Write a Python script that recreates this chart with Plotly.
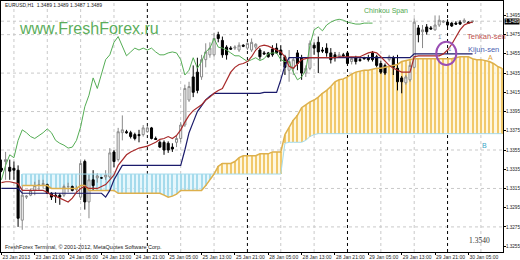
import plotly.graph_objects as go

# ---------------- data : EURUSD H1, bar 0 = 23 Jan 2013 13:00 ----------------
opens = [1.3336, 1.3343, 1.3337, 1.3336, 1.3334, 1.3282, 1.3306, 1.3308, 1.3313, 1.3319,
         1.3319, 1.3319, 1.3310, 1.3308, 1.3308, 1.3308, 1.3317, 1.3317, 1.3314, 1.3306,
         1.3343, 1.3301, 1.3324, 1.3326, 1.3326, 1.3327, 1.3327, 1.3353, 1.3345, 1.3373,
         1.3374, 1.3373, 1.3371, 1.3371, 1.3371, 1.3374, 1.3378, 1.3367, 1.3363, 1.3363,
         1.3362, 1.3358, 1.3363, 1.3367, 1.3381, 1.3407, 1.3431, 1.3436, 1.3431, 1.3449,
         1.3454, 1.3454, 1.3475, 1.3469, 1.3462, 1.3461, 1.3461, 1.3459, 1.3464, 1.3461,
         1.3459, 1.3462, 1.3459, 1.3456, 1.3456, 1.3460, 1.3461, 1.3459, 1.3452, 1.3438,
         1.3440, 1.3456, 1.3451, 1.3435, 1.3440, 1.3464, 1.3467, 1.3459, 1.3461, 1.3456,
         1.3454, 1.3452, 1.3454, 1.3456, 1.3447, 1.3451, 1.3449, 1.3451, 1.3451, 1.3456,
         1.3452, 1.3445, 1.3443, 1.3449, 1.3451, 1.3440, 1.3430, 1.3425, 1.3428, 1.3441,
         1.3482, 1.3478, 1.3483, 1.3482, 1.3480, 1.3485, 1.3488, 1.3488, 1.3487, 1.3487,
         1.3488, 1.3488, 1.3488, 1.3489]
highs = [1.3345, 1.3353, 1.3345, 1.3343, 1.3339, 1.3318, 1.3308, 1.3315, 1.3322, 1.3324,
         1.3324, 1.3320, 1.3311, 1.3311, 1.3310, 1.3319, 1.3321, 1.3318, 1.3318, 1.3344,
         1.3345, 1.3329, 1.3334, 1.3331, 1.3327, 1.3334, 1.3357, 1.3355, 1.3378, 1.3391,
         1.3376, 1.3375, 1.3373, 1.3376, 1.3381, 1.3380, 1.3379, 1.3369, 1.3365, 1.3365,
         1.3364, 1.3362, 1.3370, 1.3384, 1.3423, 1.3426, 1.3443, 1.3451, 1.3454, 1.3466,
         1.3467, 1.3477, 1.3478, 1.3473, 1.3464, 1.3463, 1.3464, 1.3467, 1.3465, 1.3467,
         1.3471, 1.3466, 1.3461, 1.3458, 1.3457, 1.3464, 1.3466, 1.3464, 1.3454, 1.3459,
         1.3451, 1.3459, 1.3454, 1.3443, 1.3469, 1.3467, 1.3473, 1.3462, 1.3466, 1.3461,
         1.3457, 1.3457, 1.3456, 1.3458, 1.3452, 1.3453, 1.3451, 1.3452, 1.3454, 1.3458,
         1.3454, 1.3448, 1.3445, 1.3454, 1.3453, 1.3454, 1.3432, 1.3433, 1.3447, 1.3492,
         1.3485, 1.3485, 1.3486, 1.3484, 1.3495, 1.3495, 1.3490, 1.3491, 1.3488, 1.3489,
         1.3490, 1.3492, 1.3489, 1.3489]
lows = [1.3332, 1.3324, 1.3324, 1.3324, 1.3275, 1.3272, 1.3304, 1.3307, 1.3308, 1.3313,
        1.3315, 1.3309, 1.3303, 1.3300, 1.3298, 1.3306, 1.3311, 1.3312, 1.3311, 1.3303,
        1.3293, 1.3284, 1.3313, 1.3321, 1.3325, 1.3324, 1.3326, 1.3337, 1.3343, 1.3365,
        1.3372, 1.3367, 1.3365, 1.3363, 1.3369, 1.3373, 1.3366, 1.3366, 1.3357, 1.3350,
        1.3352, 1.3353, 1.3358, 1.3363, 1.3379, 1.3405, 1.3410, 1.3414, 1.3428, 1.3441,
        1.3451, 1.3452, 1.3467, 1.3451, 1.3449, 1.3459, 1.3459, 1.3457, 1.3462, 1.3459,
        1.3457, 1.3460, 1.3449, 1.3454, 1.3451, 1.3452, 1.3455, 1.3447, 1.3433, 1.3426,
        1.3433, 1.3438, 1.3428, 1.3431, 1.3438, 1.3454, 1.3435, 1.3456, 1.3452, 1.3445,
        1.3447, 1.3451, 1.3452, 1.3443, 1.3444, 1.3444, 1.3447, 1.3449, 1.3447, 1.3447,
        1.3441, 1.3434, 1.3433, 1.3447, 1.3433, 1.3417, 1.3414, 1.3423, 1.3426, 1.3440,
        1.3467, 1.3461, 1.3475, 1.3480, 1.3479, 1.3483, 1.3487, 1.3483, 1.3483, 1.3485,
        1.3485, 1.3487, 1.3487, 1.3487]
closes = [1.3334, 1.3345, 1.3333, 1.3334, 1.3284, 1.3308, 1.3307, 1.3313, 1.3318, 1.3319,
          1.3320, 1.3310, 1.3306, 1.3307, 1.3306, 1.3317, 1.3317, 1.3313, 1.3315, 1.3341,
          1.3301, 1.3324, 1.3318, 1.3328, 1.3326, 1.3329, 1.3352, 1.3343, 1.3374, 1.3376,
          1.3373, 1.3369, 1.3367, 1.3370, 1.3378, 1.3378, 1.3367, 1.3366, 1.3358, 1.3355,
          1.3355, 1.3356, 1.3367, 1.3381, 1.3419, 1.3421, 1.3415, 1.3417, 1.3449, 1.3457,
          1.3461, 1.3471, 1.3471, 1.3454, 1.3454, 1.3460, 1.3462, 1.3464, 1.3463, 1.3466,
          1.3467, 1.3465, 1.3452, 1.3455, 1.3452, 1.3454, 1.3456, 1.3454, 1.3441, 1.3447,
          1.3449, 1.3445, 1.3435, 1.3440, 1.3466, 1.3461, 1.3457, 1.3458, 1.3456, 1.3449,
          1.3451, 1.3454, 1.3453, 1.3445, 1.3450, 1.3447, 1.3448, 1.3450, 1.3449, 1.3449,
          1.3443, 1.3436, 1.3435, 1.3452, 1.3441, 1.3426, 1.3426, 1.3431, 1.3443, 1.3488,
          1.3475, 1.3480, 1.3478, 1.3481, 1.3485, 1.3490, 1.3489, 1.3485, 1.3484, 1.3486,
          1.3486, 1.3490, 1.3487, 1.3489]

tenkan_sen = [1.3321, 1.3322, 1.3322, 1.3321, 1.3320, 1.3313, 1.3313, 1.3313, 1.3313, 1.3313,
              1.3313, 1.3311, 1.3308, 1.3307, 1.3305, 1.3303, 1.3301, 1.3305, 1.3311, 1.3315,
              1.3317, 1.3315, 1.3315, 1.3315, 1.3317, 1.3319, 1.3324, 1.3329, 1.3339, 1.3345,
              1.3350, 1.3353, 1.3355, 1.3357, 1.3358, 1.3359, 1.3361, 1.3363, 1.3366, 1.3367,
              1.3369, 1.3367, 1.3370, 1.3376, 1.3384, 1.3391, 1.3396, 1.3399, 1.3402, 1.3407,
              1.3410, 1.3414, 1.3417, 1.3419, 1.3428, 1.3436, 1.3441, 1.3444, 1.3445, 1.3447,
              1.3452, 1.3459, 1.3463, 1.3464, 1.3463, 1.3461, 1.3459, 1.3457, 1.3452, 1.3442,
              1.3440, 1.3445, 1.3449, 1.3450, 1.3451, 1.3451, 1.3451, 1.3451, 1.3451, 1.3451,
              1.3451, 1.3452, 1.3452, 1.3452, 1.3452, 1.3452, 1.3452, 1.3454, 1.3456, 1.3457,
              1.3456, 1.3452, 1.3447, 1.3443, 1.3440, 1.3438, 1.3436, 1.3436, 1.3436, 1.3452,
              1.3453, 1.3453, 1.3453, 1.3453, 1.3453, 1.3453, 1.3455, 1.3459, 1.3465, 1.3473,
              1.3480, 1.3485, 1.3487, 1.3488]
kijun_sen = [1.3315, 1.3315, 1.3315, 1.3315, 1.3315, 1.3310, 1.3310, 1.3310, 1.3310, 1.3310,
             1.3310, 1.3310, 1.3310, 1.3310, 1.3310, 1.3310, 1.3310, 1.3310, 1.3310, 1.3310,
             1.3310, 1.3310, 1.3310, 1.3310, 1.3310, 1.3306, 1.3313, 1.3324, 1.3332, 1.3339,
             1.3339, 1.3339, 1.3339, 1.3339, 1.3339, 1.3339, 1.3339, 1.3339, 1.3339, 1.3339,
             1.3339, 1.3339, 1.3339, 1.3339, 1.3355, 1.3373, 1.3384, 1.3395, 1.3401, 1.3407,
             1.3411, 1.3414, 1.3414, 1.3414, 1.3414, 1.3414, 1.3414, 1.3414, 1.3414, 1.3414,
             1.3414, 1.3414, 1.3414, 1.3415, 1.3415, 1.3415, 1.3415, 1.3428, 1.3443, 1.3451,
             1.3451, 1.3451, 1.3451, 1.3451, 1.3451, 1.3451, 1.3451, 1.3451, 1.3451, 1.3451,
             1.3451, 1.3451, 1.3451, 1.3451, 1.3451, 1.3451, 1.3451, 1.3451, 1.3451, 1.3451,
             1.3451, 1.3451, 1.3451, 1.3451, 1.3451, 1.3451, 1.3451, 1.3451, 1.3451, 1.3455,
             1.3455, 1.3455, 1.3455, 1.3455, 1.3455, 1.3455, 1.3455, 1.3455, 1.3455, 1.3455,
             1.3455, 1.3455, 1.3455, 1.3455]
chinkou_span = [1.3324, 1.3339, 1.3350, 1.3347, 1.3365, 1.3376, 1.3373, 1.3369, 1.3367, 1.3370,
                1.3373, 1.3377, 1.3373, 1.3365, 1.3362, 1.3360, 1.3357, 1.3358, 1.3365, 1.3379,
                1.3400, 1.3412, 1.3430, 1.3419, 1.3433, 1.3449, 1.3454, 1.3467, 1.3473, 1.3463,
                1.3453, 1.3457, 1.3461, 1.3459, 1.3461, 1.3459, 1.3461, 1.3457, 1.3454, 1.3454,
                1.3456, 1.3457, 1.3456, 1.3449, 1.3433, 1.3438, 1.3451, 1.3440, 1.3447, 1.3457,
                1.3461, 1.3471, 1.3462, 1.3461, 1.3459, 1.3456, 1.3453, 1.3453, 1.3450, 1.3447,
                1.3449, 1.3451, 1.3448, 1.3450, 1.3455, 1.3456, 1.3456, 1.3449, 1.3447, 1.3447,
                1.3436, 1.3428, 1.3431, 1.3438, 1.3464, 1.3480, 1.3483, 1.3479, 1.3485, 1.3488,
                1.3490, 1.3491, 1.3490, 1.3488, 1.3487, 1.3486, 1.3486, 1.3487, 1.3487, 1.3487]
senkou_a = [None, None, None, None, None,
            1.3318, 1.3318, 1.3318, 1.3318, 1.3318, 1.3318, 1.3318,
            1.3315, 1.3315, 1.3315, 1.3315, 1.3315, 1.3315, 1.3315,
            1.3318, 1.3318,
            1.3313, 1.3313, 1.3313, 1.3313, 1.3313, 1.3313, 1.3313,
            1.3310, 1.3310, 1.3310, 1.3310, 1.3310, 1.3310, 1.3310, 1.3310, 1.3310, 1.3310, 1.3310,
            1.3308, 1.3306, 1.3307, 1.3309,
            1.3313, 1.3313, 1.3313, 1.3313, 1.3313, 1.3313,
            1.3318, 1.3324, 1.3330, 1.3338,
            1.3341, 1.3341, 1.3341, 1.3343, 1.3347,
            1.3349, 1.3349, 1.3349, 1.3349, 1.3351, 1.3351, 1.3351, 1.3353, 1.3353, 1.3353,
            1.3371, 1.3378, 1.3386, 1.3391, 1.3399, 1.3402, 1.3405, 1.3407, 1.3410, 1.3414,
            1.3417, 1.3421, 1.3426, 1.3428, 1.3429, 1.3431, 1.3434, 1.3436, 1.3437, 1.3438,
            1.3438, 1.3439, 1.3440, 1.3440, 1.3441, 1.3442, 1.3443, 1.3444, 1.3447, 1.3448,
            1.3449,
            1.3450, 1.3450, 1.3450, 1.3450, 1.3450, 1.3450, 1.3450, 1.3450, 1.3450, 1.3450,
            1.3451, 1.3452, 1.3452, 1.3452,
            1.3450, 1.3449, 1.3449, 1.3448, 1.3447, 1.3445, 1.3442, 1.3440]
senkou_b = [None, None, None, None, None,
            1.3330, 1.3330, 1.3330, 1.3330, 1.3330, 1.3330, 1.3330, 1.3330, 1.3330, 1.3330,
            1.3330, 1.3330, 1.3330, 1.3330, 1.3330, 1.3330, 1.3330, 1.3330, 1.3330, 1.3330,
            1.3330, 1.3330, 1.3330, 1.3330, 1.3330, 1.3330, 1.3330, 1.3330, 1.3330, 1.3330,
            1.3330, 1.3330, 1.3330, 1.3330, 1.3330, 1.3330, 1.3330, 1.3330, 1.3330, 1.3330,
            1.3330, 1.3330, 1.3330, 1.3330, 1.3330, 1.3330, 1.3330, 1.3330, 1.3330, 1.3330,
            1.3330, 1.3330, 1.3330, 1.3330, 1.3330, 1.3330, 1.3330, 1.3330, 1.3330, 1.3330,
            1.3330, 1.3330, 1.3330,
            1.3362, 1.3363, 1.3363, 1.3363, 1.3363, 1.3365, 1.3369, 1.3371,
            1.3372, 1.3372, 1.3372, 1.3372, 1.3372, 1.3372, 1.3372, 1.3372, 1.3372, 1.3372,
            1.3372, 1.3372, 1.3372, 1.3372, 1.3372, 1.3372, 1.3372, 1.3372, 1.3372, 1.3372,
            1.3372, 1.3372, 1.3372, 1.3372, 1.3372, 1.3372, 1.3372, 1.3372, 1.3372, 1.3372,
            1.3372, 1.3372, 1.3372, 1.3372, 1.3372, 1.3372, 1.3372, 1.3372, 1.3372, 1.3372,
            1.3372, 1.3372, 1.3372, 1.3372, 1.3372]

x_tick_bars = [0, 8, 16, 24, 32, 40, 48, 56, 64, 72, 80, 88, 96, 104, 112]
x_tick_labels = ["23 Jan 2013", "23 Jan 21:00", "24 Jan 05:00", "24 Jan 13:00", "24 Jan 21:00",
                 "25 Jan 05:00", "25 Jan 13:00", "25 Jan 21:00", "28 Jan 05:00", "28 Jan 13:00",
                 "28 Jan 21:00", "29 Jan 05:00", "29 Jan 13:00", "29 Jan 21:00", "30 Jan 05:00"]
y_tick_values = [1.3255, 1.3275, 1.3295, 1.3315, 1.3335, 1.3355, 1.3375,
                 1.3395, 1.3415, 1.3435, 1.3455, 1.3475, 1.3495]
grid_levels = [1.3275, 1.3315, 1.3355, 1.3395, 1.3435, 1.3475]
grid_bars = [3, 11, 19, 27, 43, 51, 67, 75, 91, 99, 115]
day_separator_bars = [35, 59, 83, 107]
last_price = 1.3489
header = "EURUSD,H1  1.3489 1.3489 1.3487 1.3489"

# ---------------- styling ----------------
W, H = 520, 260
ML, MR, MT, MB = 1, 17, 1, 8
X_RANGE = [-0.1, 120.3]
Y_RANGE = [1.32489, 1.35100]
BULL_STRIPE, BEAR_STRIPE = "#f1c96c", "#a6dbec"
BULL_FILL, BEAR_FILL = "rgba(253,244,212,0.7)", "rgba(214,242,250,0.6)"
FONT = "Liberation Sans"

n_bars = len(closes)
bars = list(range(n_bars))
cloud_bars = list(range(len(senkou_a)))

fig = go.Figure()

# cloud hatch (one thin bar per hour between Senkou A and B)
cx, cbase, ch, ccol = [], [], [], []
for i, (a, b) in enumerate(zip(senkou_a, senkou_b)):
    if a is None or b is None:
        continue
    cx.append(i)
    cbase.append(min(a, b))
    ch.append(abs(a - b))
    ccol.append(BULL_STRIPE if a >= b else BEAR_STRIPE)
fig.add_trace(go.Bar(x=cx, y=ch, base=cbase, width=0.25, marker=dict(color=ccol, line_width=0),
                     hoverinfo="skip"))

# pale fills of the cloud as shapes below everything
valid = [i for i in cloud_bars if senkou_a[i] is not None and senkou_b[i] is not None]
runs = []
for i in valid:
    bull = senkou_a[i] >= senkou_b[i]
    if runs and runs[-1][0] == bull:
        runs[-1][1].append(i)
    else:
        if runs:
            runs[-1][1].append(i)
        runs.append([bull, [i]])
shapes = []
for lv in grid_levels:
    shapes.append(dict(type="line", xref="paper", x0=0, x1=1, yref="y", y0=lv, y1=lv,
                       line=dict(color="#c9c9c9", width=1, dash="dot"), layer="below"))
shapes.append(dict(type="line", xref="paper", x0=0, x1=1, yref="y", y0=last_price, y1=last_price,
                   line=dict(color="#c9c9c9", width=1, dash="dot"), layer="below"))
for gb in grid_bars:
    shapes.append(dict(type="line", xref="x", x0=gb, x1=gb, yref="paper", y0=0, y1=1,
                       line=dict(color="#c9c9c9", width=1, dash="dot"), layer="below"))
for bull, idx in runs:
    pts = [f"{i},{senkou_a[i]}" for i in idx] + [f"{i},{senkou_b[i]}" for i in reversed(idx)]
    shapes.append(dict(type="path", xref="x", yref="y", path="M" + "L".join(pts) + "Z",
                       fillcolor=BULL_FILL if bull else BEAR_FILL, line=dict(width=0), layer="below"))
for sb in day_separator_bars:
    shapes.append(dict(type="line", xref="x", x0=sb, x1=sb, yref="paper", y0=0, y1=1,
                       line=dict(color="#000000", width=1, dash="dot"), layer="below"))
# highlight circle around the Tenkan/Kijun cross
shapes.append(dict(type="circle", xref="x", yref="y", x0=104.3, x1=109.1, y0=1.34434, y1=1.34677,
                   line=dict(color="#9a4fb4", width=2), layer="above"))

# candles
fig.add_trace(go.Candlestick(
    x=bars, open=opens, high=highs, low=lows, close=closes,
    increasing=dict(line=dict(color="#8a8a8a", width=1), fillcolor="#ffffff"),
    decreasing=dict(line=dict(color="#000000", width=1), fillcolor="#000000"),
    whiskerwidth=0, hoverinfo="skip"))

# cloud edges
fig.add_trace(go.Scatter(x=cloud_bars, y=senkou_b, mode="lines",
                         line=dict(color="#a6dbec", width=1), hoverinfo="skip"))
fig.add_trace(go.Scatter(x=cloud_bars, y=senkou_a, mode="lines",
                         line=dict(color="#ddb04c", width=1.5), hoverinfo="skip"))
# lines
fig.add_trace(go.Scatter(x=list(range(len(chinkou_span))), y=chinkou_span, mode="lines",
                         line=dict(color="#55ad55", width=1), hoverinfo="skip"))
fig.add_trace(go.Scatter(x=bars, y=kijun_sen, mode="lines",
                         line=dict(color="#1b1b6b", width=1.2), hoverinfo="skip"))
fig.add_trace(go.Scatter(x=bars, y=tenkan_sen, mode="lines",
                         line=dict(color="#a82a2a", width=1.2), hoverinfo="skip"))

PW = W - ML - MR
PH = H - MT - MB


def px(x):
    return (x - ML) / PW


def py(y):
    return 1 - (y - MT) / PH


def label(text, x, y, size, color, family=FONT, xanchor="left"):
    return dict(text=text, xref="paper", yref="paper", x=px(x), y=py(y), xanchor=xanchor,
                yanchor="middle", showarrow=False, font=dict(size=size, color=color, family=family))


annotations = [
    label(header, 3, 5, 5, "#222222"),
    label("www.FreshForex.ru", 17, 28, 16, "#5cae5c"),
    label("FreshForex Terminal, \u00a9 2001-2012, MetaQuotes Software Corp.", 3, 247, 5.5, "#222222"),
    label("Chinkou Span", 362, 11, 7, "#4fa84f"),
    label("Tenkan-sen", 465, 37, 7.5, "#c0504d"),
    label("Kijun-sen", 466, 49, 7.5, "#4a62b0"),
    label("A", 486, 57, 7, "#e0a030"),
    label("B", 480, 145, 7, "#3aa6c6"),
    label("1.3540", 467, 240, 7.5, "#333333", family="Liberation Serif"),
    label("1", 436, 37, 6, "#7f8fb0"),
    label("1", 446, 49, 6, "#7f8fb0"),
    dict(text=f"{last_price:.4f}", xref="paper", yref="y", x=1, y=last_price, xanchor="left",
         yanchor="middle", xshift=1, showarrow=False, bgcolor="#000000", borderpad=0,
         font=dict(size=4.6, color="#ffffff", family=FONT)),
]

fig.update_layout(
    width=W, height=H, margin=dict(l=ML, r=MR, t=MT, b=MB),
    paper_bgcolor="#ffffff", plot_bgcolor="#ffffff", showlegend=False,
    shapes=shapes, annotations=annotations, bargap=0,
)
fig.update_xaxes(
    range=X_RANGE, tickmode="array", tickvals=x_tick_bars, ticktext=x_tick_labels,
    ticks="outside", ticklen=2, tickcolor="#000000", ticklabelposition="outside right",
    tickangle=0, automargin=False,
    tickfont=dict(size=5, family=FONT, color="#222222"),
    showgrid=False, zeroline=False, showline=True, linecolor="#000000", linewidth=1, mirror=True,
    rangeslider=dict(visible=False),
)
fig.update_yaxes(
    side="right", range=Y_RANGE, tickmode="array", tickvals=y_tick_values,
    ticktext=[f"{v:.4f}" for v in y_tick_values],
    ticks="outside", ticklen=2, tickcolor="#000000", automargin=False, ticklabelstandoff=-1,
    tickfont=dict(size=4.6, family=FONT, color="#222222"),
    showgrid=False, zeroline=False, showline=True, linecolor="#000000", linewidth=1, mirror=True,
)

fig.write_html("out.html", config={"displayModeBar": False})
